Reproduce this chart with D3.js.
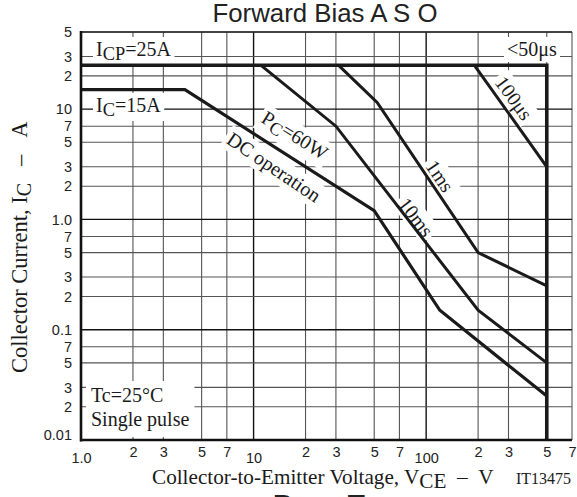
<!DOCTYPE html>
<html>
<head>
<meta charset="utf-8">
<script src="https://cdn.jsdelivr.net/npm/d3@7"></script>
<style>
html,body{margin:0;padding:0;background:#fff;overflow:hidden;}
svg{display:block;}
</style>
</head>
<body>
<svg id="chart" width="577" height="497"></svg>
<script>
// ---- Data ----
const xTicks = [1,2,3,5,7,10,20,30,50,70,100,200,300,500,700];
const xTickLabels = ["1.0","2","3","5","7","10","2","3","5","7","100","2","3","5","7"];
const yTicks = [0.01,0.02,0.03,0.05,0.07,0.1,0.2,0.3,0.5,0.7,1,2,3,5,7,10,20,30,50];
const yTickLabels = ["0.01","2","3","5","7","0.1","2","3","5","7","1.0","2","3","5","7","10","2","3","5"];
const icpLimit = [[1,25],[500,25],[500,0.01]];
const dcOperation = [[1,15],[4,15],[50,1.2],[120,0.15],[500,0.025]];
const pulse10ms = [[11,25],[30,7],[200,0.15],[500,0.05]];
const pulse1ms = [[31,25],[52,11.5],[200,0.5],[500,0.25]];
const pulse100us = [[190,25],[500,3]];

const SERIF = "'Liberation Serif','Times New Roman',serif";
const SANS = "'Liberation Sans',Arial,sans-serif";

const svg = d3.select("#chart");
const L=81, R=572, T=32, B=440;
const x = d3.scaleLog().domain([1,700]).range([L,R]);
const y = d3.scaleLog().domain([0.01,50]).range([B,T]);
const isDecade = v => Math.abs(Math.log10(v) - Math.round(Math.log10(v))) < 1e-6;

// Title
svg.append("text").attr("x",325).attr("y",22).attr("text-anchor","middle")
  .attr("font-family",SANS).attr("font-size",25.8).attr("fill","#222")
  .text("Forward Bias A S O");

// Grid
const grid = svg.append("g");
grid.selectAll("line.v").data(xTicks.slice(1)).join("line")
  .attr("x1",d=>x(d)).attr("x2",d=>x(d)).attr("y1",T).attr("y2",B)
  .attr("stroke",d=>isDecade(d)?"#111":"#555").attr("stroke-width",d=>isDecade(d)?1.4:1.1);
grid.selectAll("line.h").data(yTicks.slice(1)).join("line")
  .attr("x1",L).attr("x2",R).attr("y1",d=>y(d)).attr("y2",d=>y(d))
  .attr("stroke",d=>isDecade(d)?"#111":"#555").attr("stroke-width",d=>isDecade(d)?1.4:1.1);
// top border
svg.append("line").attr("x1",L).attr("x2",R).attr("y1",T).attr("y2",T).attr("stroke","#222").attr("stroke-width",1.6);

// Axis tick labels
const yAxis = d3.axisLeft(y).tickValues(yTicks).tickSize(0).tickPadding(9)
  .tickFormat((d,i)=>yTickLabels[i]);
const gy = svg.append("g").attr("transform",`translate(${L},0)`).call(yAxis);
gy.select(".domain").remove();
gy.selectAll("text").attr("font-family",SANS).attr("font-size",14.5).attr("fill","#222")
  .attr("dy",(d,i)=> i===0 ? "-0.05em" : "0.32em");

const xAxis = d3.axisBottom(x).tickValues(xTicks).tickSize(0).tickPadding(0)
  .tickFormat((d,i)=>xTickLabels[i]);
const gx = svg.append("g").attr("transform",`translate(0,${B})`).call(xAxis);
gx.select(".domain").remove();
gx.selectAll("text").attr("font-family",SANS).attr("font-size",14.5).attr("fill","#222")
  .attr("dy",null).attr("y",(d)=> isDecade(d) ? 23 : 17);

// Label helper with white background
function label(parts, opts){
  const g = svg.append("g");
  if(opts.rotate!==undefined) g.attr("transform",`translate(${opts.x},${opts.y}) rotate(${opts.rotate})`);
  else g.attr("transform",`translate(${opts.x},${opts.y})`);
  const rect = g.append("rect").attr("fill","#fff");
  const t = g.append("text").attr("font-family",SERIF).attr("font-size",opts.size||20).attr("fill","#1a1a1a")
    .attr("text-anchor",opts.anchor||"start");
  parts.forEach(p=>{
    const ts = t.append("tspan").text(p.t);
    if(p.sub){ ts.attr("dy",4).attr("font-size",(opts.size||20)*0.92); }
    if(p.unsub){ ts.attr("dy",-4); }
  });
  if(opts.rotate!==undefined){ t.attr("dy","0.35em"); }
  const bb = t.node().getBBox();
  const px = opts.padX||3, py = opts.padY||1;
  rect.attr("x",bb.x-px).attr("y",bb.y-py).attr("width",bb.width+2*px).attr("height",bb.height+2*py);
  return g;
}

label([{t:"I"},{t:"CP",sub:true},{t:"=25A",unsub:true}],{x:96,y:56});
label([{t:"<50μs"}],{x:507,y:56});
label([{t:"I"},{t:"C",sub:true},{t:"=15A",unsub:true}],{x:96,y:112});
label([{t:"P"},{t:"C",sub:true},{t:"=60W",unsub:true}],{x:295,y:135,rotate:32,anchor:"middle"});
label([{t:"DC operation"}],{x:274,y:167,rotate:34,anchor:"middle"});
label([{t:"1ms"}],{x:440,y:176,rotate:56,anchor:"middle"});
label([{t:"10ms"}],{x:416,y:217,rotate:52,anchor:"middle"});
label([{t:"100μs"}],{x:514,y:98,rotate:54,anchor:"middle"});

// Tc / single pulse box
{
  const g = svg.append("g");
  const rect = g.append("rect").attr("fill","#fff");
  const t1 = g.append("text").attr("x",91).attr("y",402).attr("font-family",SERIF).attr("font-size",20).attr("fill","#1a1a1a").text("Tc=25°C");
  const t2 = g.append("text").attr("x",91).attr("y",426).attr("font-family",SERIF).attr("font-size",20).attr("fill","#1a1a1a").text("Single pulse");
  const b2 = t2.node().getBBox();
  rect.attr("x",86).attr("y",381).attr("width",b2.x+b2.width+5-86).attr("height",B-3-381);
}

// Curves
const line = d3.line().x(d=>x(d[0])).y(d=>y(d[1]));
const curves = [
  {d:pulse100us,w:3},{d:pulse1ms,w:3},{d:pulse10ms,w:3},{d:dcOperation,w:3.2}
];
curves.forEach(c=>svg.append("path").attr("d",line(c.d)).attr("fill","none")
  .attr("stroke","#1a1a1a").attr("stroke-width",c.w).attr("stroke-linejoin","miter"));
svg.append("path").attr("d",line(icpLimit)).attr("fill","none")
  .attr("stroke","#1a1a1a").attr("stroke-width",3.6).attr("stroke-linejoin","miter");

// Axes lines (thick left/bottom)
svg.append("line").attr("x1",L).attr("x2",L).attr("y1",T-1).attr("y2",B+1.5).attr("stroke","#111").attr("stroke-width",2.6);
svg.append("line").attr("x1",L-1).attr("x2",R).attr("y1",B).attr("y2",B).attr("stroke","#111").attr("stroke-width",2.6);

// Axis titles
const xt = svg.append("text").attr("x",152).attr("y",484).attr("font-family",SERIF).attr("font-size",21.2).attr("fill","#1a1a1a");
xt.append("tspan").text("Collector-to-Emitter Voltage, V");
xt.append("tspan").attr("dy",4).text("CE");
xt.append("tspan").attr("dy",-4).text("\u00a0\u00a0\u2013\u00a0\u00a0V");
svg.append("text").attr("x",516).attr("y",484).attr("font-family",SERIF).attr("font-size",16).attr("fill","#1a1a1a").text("IT13475");

const yt = svg.append("text").attr("transform","translate(27,373) rotate(-90)")
  .attr("font-family",SERIF).attr("font-size",22.5).attr("fill","#1a1a1a");
yt.append("tspan").text("Collector Current, I");
yt.append("tspan").attr("dy",4).attr("font-size",20).text("C");
yt.append("tspan").attr("dy",-4).text("\u00a0\u00a0\u00a0\u2013\u00a0\u00a0\u00a0A");

// Cut-off footer text
svg.append("text").attr("x",273).attr("y",514).attr("font-family",SANS).attr("font-weight","bold")
  .attr("font-size",28).attr("fill","#222").text("Page Top");
</script>
</body>
</html>
